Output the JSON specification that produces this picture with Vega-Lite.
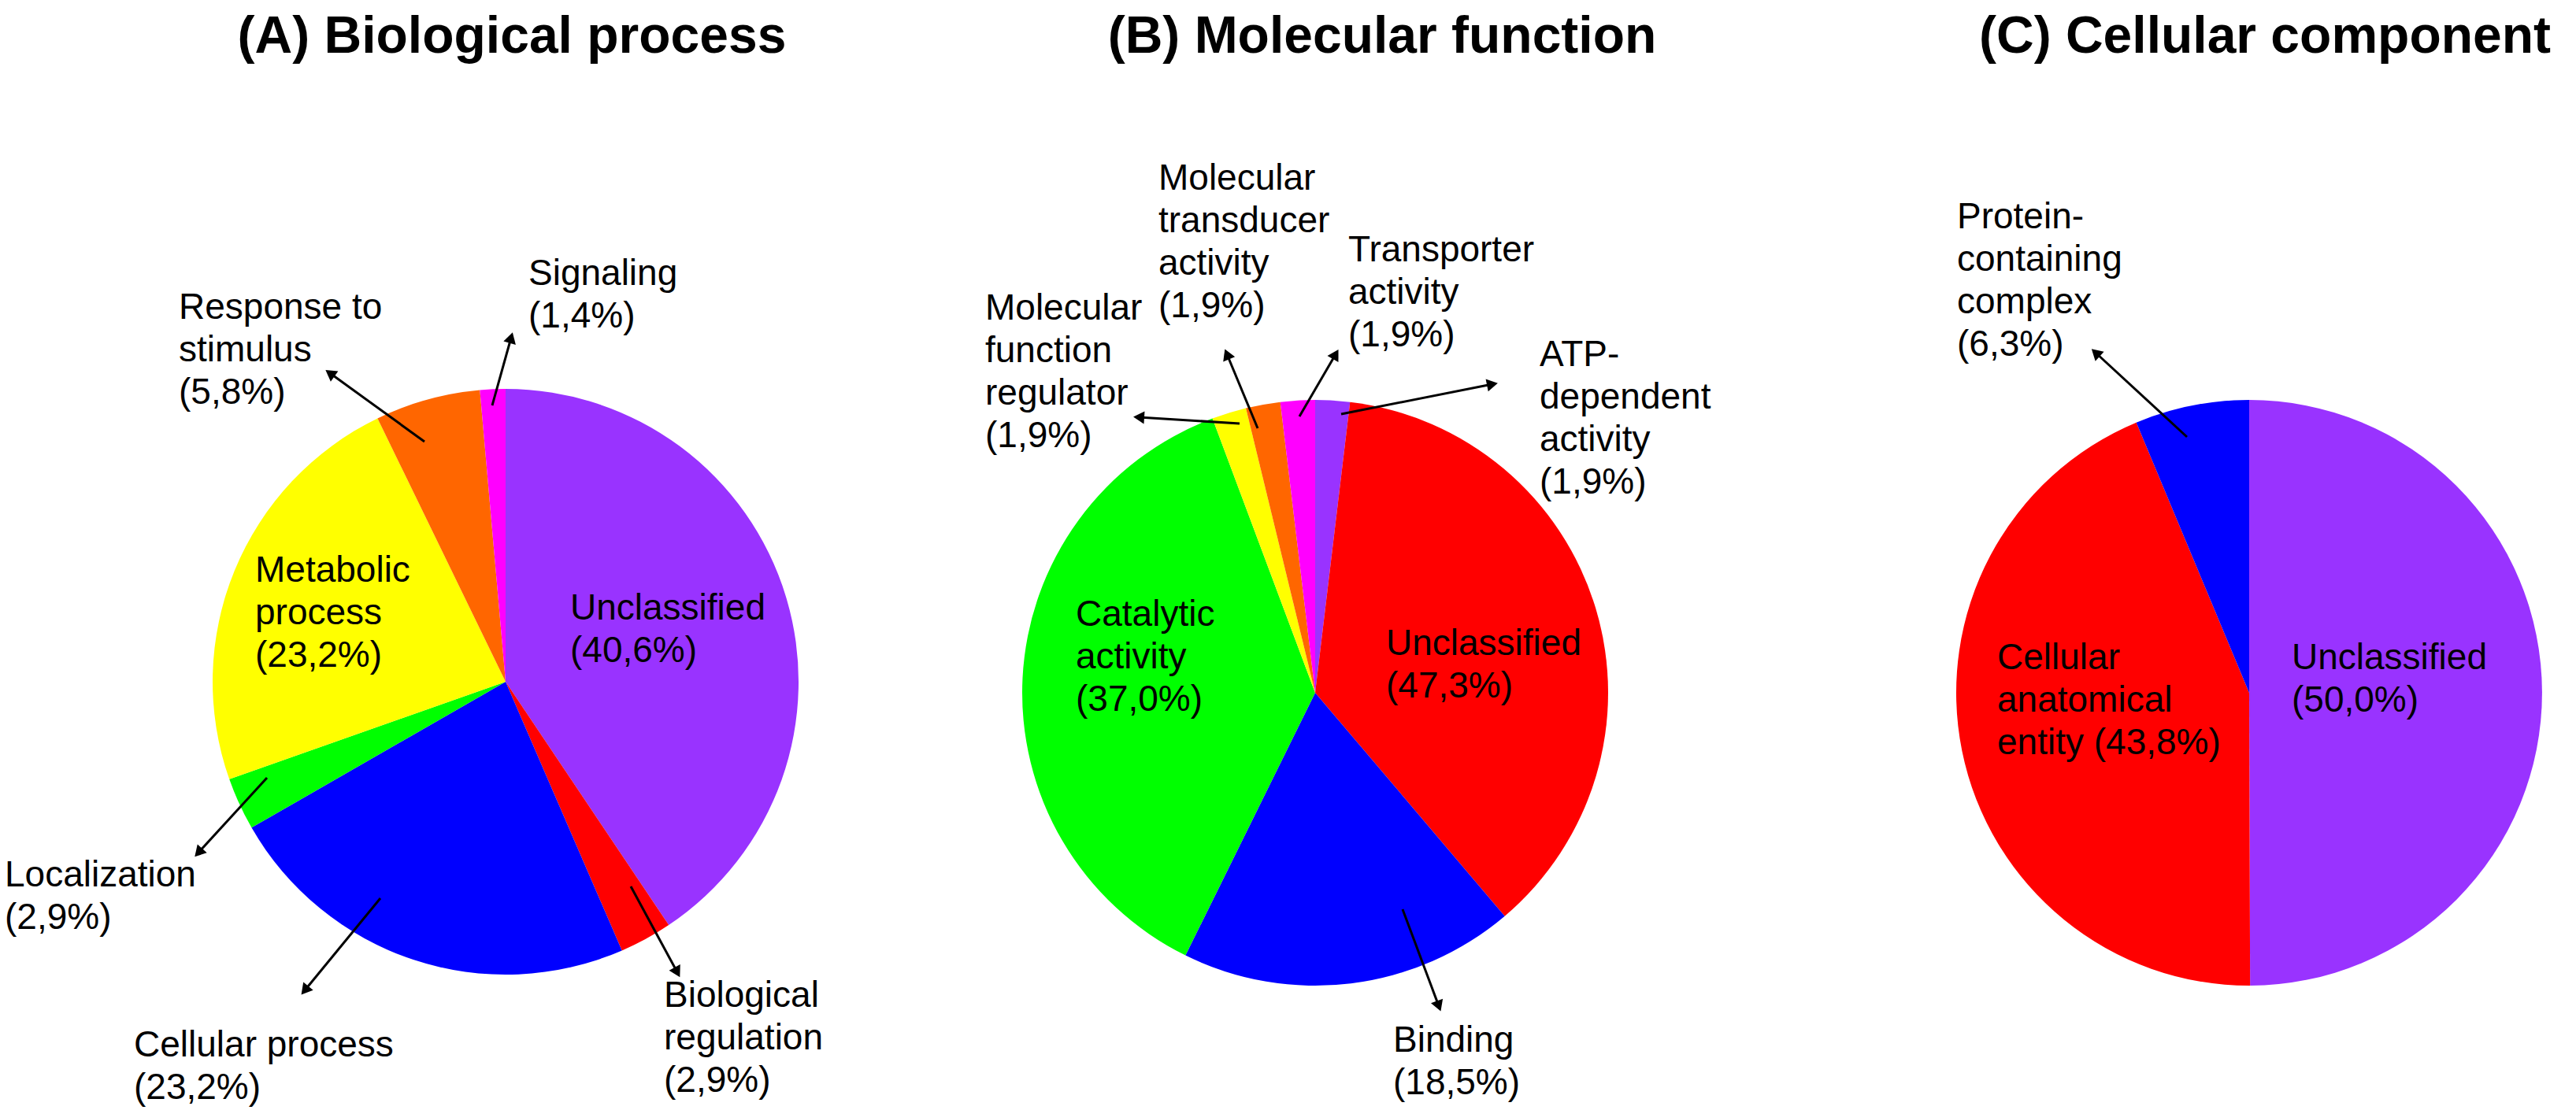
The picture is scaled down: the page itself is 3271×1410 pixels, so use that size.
{
  "$schema": "https://vega.github.io/schema/vega-lite/v6.json",
  "width": 3271,
  "height": 1410,
  "autosize": {"type": "fit", "contains": "padding"},
  "padding": 0,
  "background": "white",
  "config": {"view": {"stroke": null}},
  "datasets": {
    "slices": [
      {"panel": "A", "idx": 1, "category": "Unclassified", "value": 40.6},
      {"panel": "A", "idx": 2, "category": "Biological regulation", "value": 2.9},
      {"panel": "A", "idx": 3, "category": "Cellular process", "value": 23.2},
      {"panel": "A", "idx": 4, "category": "Localization", "value": 2.9},
      {"panel": "A", "idx": 5, "category": "Metabolic process", "value": 23.2},
      {"panel": "A", "idx": 6, "category": "Response to stimulus", "value": 5.8},
      {"panel": "A", "idx": 7, "category": "Signaling", "value": 1.4},
      {"panel": "B", "idx": 1, "category": "ATP-dependent activity", "value": 1.9},
      {"panel": "B", "idx": 2, "category": "Unclassified", "value": 36.9},
      {"panel": "B", "idx": 3, "category": "Binding", "value": 18.5},
      {"panel": "B", "idx": 4, "category": "Catalytic activity", "value": 37.0},
      {"panel": "B", "idx": 5, "category": "Molecular function regulator", "value": 1.9},
      {"panel": "B", "idx": 6, "category": "Molecular transducer activity", "value": 1.9},
      {"panel": "B", "idx": 7, "category": "Transporter activity", "value": 1.9},
      {"panel": "C", "idx": 1, "category": "Unclassified", "value": 50.0},
      {"panel": "C", "idx": 2, "category": "Cellular anatomical entity", "value": 43.8},
      {"panel": "C", "idx": 3, "category": "Protein-containing complex", "value": 6.3}
    ],
    "labels": [
      {"panel": "A", "text": "Signaling\n(1,4%)", "lx": 671, "ly": 362},
      {"panel": "A", "text": "Response to\nstimulus\n(5,8%)", "lx": 227, "ly": 405},
      {"panel": "A", "text": "Metabolic\nprocess\n(23,2%)", "lx": 324, "ly": 739},
      {"panel": "A", "text": "Unclassified\n(40,6%)", "lx": 724, "ly": 787},
      {"panel": "A", "text": "Localization\n(2,9%)", "lx": 6, "ly": 1126},
      {"panel": "A", "text": "Cellular process\n(23,2%)", "lx": 170, "ly": 1342},
      {"panel": "A", "text": "Biological\nregulation\n(2,9%)", "lx": 843, "ly": 1279},
      {"panel": "B", "text": "Molecular\ntransducer\nactivity\n(1,9%)", "lx": 1471, "ly": 241},
      {"panel": "B", "text": "Molecular\nfunction\nregulator\n(1,9%)", "lx": 1251, "ly": 406},
      {"panel": "B", "text": "Transporter\nactivity\n(1,9%)", "lx": 1712, "ly": 332},
      {"panel": "B", "text": "ATP-\ndependent\nactivity\n(1,9%)", "lx": 1955, "ly": 465},
      {"panel": "B", "text": "Catalytic\nactivity\n(37,0%)", "lx": 1366, "ly": 795},
      {"panel": "B", "text": "Unclassified\n(47,3%)", "lx": 1760, "ly": 832},
      {"panel": "B", "text": "Binding\n(18,5%)", "lx": 1769, "ly": 1336},
      {"panel": "C", "text": "Protein-\ncontaining\ncomplex\n(6,3%)", "lx": 2485, "ly": 290},
      {"panel": "C", "text": "Cellular\nanatomical\nentity (43,8%)", "lx": 2536, "ly": 850},
      {"panel": "C", "text": "Unclassified\n(50,0%)", "lx": 2910, "ly": 850}
    ],
    "arrows": [
      {"panel": "A", "target": "Signaling", "x1": 625, "y1": 515, "x2": 649, "y2": 429},
      {"panel": "A", "target": "Response to stimulus", "x1": 539, "y1": 561, "x2": 419, "y2": 474},
      {"panel": "A", "target": "Localization", "x1": 339, "y1": 988, "x2": 252, "y2": 1083},
      {"panel": "A", "target": "Cellular process", "x1": 483, "y1": 1141, "x2": 387, "y2": 1258},
      {"panel": "A", "target": "Biological regulation", "x1": 801, "y1": 1126, "x2": 860, "y2": 1235},
      {"panel": "B", "target": "Molecular function regulator", "x1": 1574, "y1": 538, "x2": 1446, "y2": 530},
      {"panel": "B", "target": "Molecular transducer activity", "x1": 1597, "y1": 544, "x2": 1558, "y2": 450},
      {"panel": "B", "target": "Transporter activity", "x1": 1650, "y1": 529, "x2": 1696, "y2": 450},
      {"panel": "B", "target": "ATP-dependent activity", "x1": 1703, "y1": 526, "x2": 1895, "y2": 488},
      {"panel": "B", "target": "Binding", "x1": 1781, "y1": 1155, "x2": 1827, "y2": 1278},
      {"panel": "C", "target": "Protein-containing complex", "x1": 2777, "y1": 555, "x2": 2661, "y2": 448}
    ],
    "titles": [
      {"text": "(A) Biological process", "tx": 650, "ty": 67},
      {"text": "(B) Molecular function", "tx": 1755, "ty": 67},
      {"text": "(C) Cellular component", "tx": 2876, "ty": 67}
    ]
  },
  "layer": [
    {
      "data": {"name": "slices"},
      "transform": [{"filter": "datum.panel === 'A'"}],
      "mark": {"type": "arc", "radius": 372},
      "encoding": {
        "x": {"datum": 642, "type": "quantitative", "scale": {"domain": [0, 3271], "nice": false, "zero": false}, "axis": null},
        "y": {"datum": 866, "type": "quantitative", "scale": {"domain": [0, 1410], "nice": false, "zero": false, "reverse": true}, "axis": null},
        "theta": {"field": "value", "type": "quantitative", "stack": true},
        "order": {"field": "idx", "type": "quantitative"},
        "color": {"field": "idx", "type": "nominal", "scale": {"domain": [1, 2, 3, 4, 5, 6, 7], "range": ["#9933FF", "#FF0000", "#0000FF", "#00FF00", "#FFFF00", "#FF6600", "#FF00FF"]}, "legend": null}
      }
    },
    {
      "data": {"name": "slices"},
      "transform": [{"filter": "datum.panel === 'B'"}],
      "mark": {"type": "arc", "radius": 372},
      "encoding": {
        "x": {"datum": 1670, "type": "quantitative", "scale": {"domain": [0, 3271], "nice": false, "zero": false}, "axis": null},
        "y": {"datum": 880, "type": "quantitative", "scale": {"domain": [0, 1410], "nice": false, "zero": false, "reverse": true}, "axis": null},
        "theta": {"field": "value", "type": "quantitative", "stack": true},
        "order": {"field": "idx", "type": "quantitative"},
        "color": {"field": "idx", "type": "nominal", "legend": null}
      }
    },
    {
      "data": {"name": "slices"},
      "transform": [{"filter": "datum.panel === 'C'"}],
      "mark": {"type": "arc", "radius": 372},
      "encoding": {
        "x": {"datum": 2856, "type": "quantitative", "scale": {"domain": [0, 3271], "nice": false, "zero": false}, "axis": null},
        "y": {"datum": 880, "type": "quantitative", "scale": {"domain": [0, 1410], "nice": false, "zero": false, "reverse": true}, "axis": null},
        "theta": {"field": "value", "type": "quantitative", "stack": true},
        "order": {"field": "idx", "type": "quantitative"},
        "color": {"field": "idx", "type": "nominal", "legend": null}
      }
    },
    {
      "data": {"name": "arrows"},
      "mark": {"type": "rule", "strokeWidth": 3, "color": "black"},
      "encoding": {
        "x": {"field": "x1", "type": "quantitative", "scale": {"domain": [0, 3271], "nice": false, "zero": false}, "axis": null},
        "y": {"field": "y1", "type": "quantitative", "scale": {"domain": [0, 1410], "nice": false, "zero": false, "reverse": true}, "axis": null},
        "x2": {"field": "x2"},
        "y2": {"field": "y2"}
      }
    },
    {
      "data": {"name": "arrows"},
      "transform": [{"calculate": "atan2(datum.x2 - datum.x1, datum.y1 - datum.y2) * 180 / PI", "as": "ang"}],
      "mark": {"type": "point", "shape": "triangle-up", "filled": true, "size": 260, "color": "black", "opacity": 1, "strokeWidth": 0},
      "encoding": {
        "x": {"field": "x2", "type": "quantitative", "scale": {"domain": [0, 3271], "nice": false, "zero": false}, "axis": null},
        "y": {"field": "y2", "type": "quantitative", "scale": {"domain": [0, 1410], "nice": false, "zero": false, "reverse": true}, "axis": null},
        "angle": {"field": "ang", "type": "quantitative", "scale": null}
      }
    },
    {
      "data": {"name": "labels"},
      "mark": {"type": "text", "align": "left", "baseline": "alphabetic", "fontSize": 46, "lineHeight": 54, "lineBreak": "\n", "font": "Liberation Sans", "color": "black"},
      "encoding": {
        "x": {"field": "lx", "type": "quantitative", "scale": {"domain": [0, 3271], "nice": false, "zero": false}, "axis": null},
        "y": {"field": "ly", "type": "quantitative", "scale": {"domain": [0, 1410], "nice": false, "zero": false, "reverse": true}, "axis": null},
        "text": {"field": "text"}
      }
    },
    {
      "data": {"name": "titles"},
      "mark": {"type": "text", "align": "center", "baseline": "alphabetic", "fontSize": 66, "fontWeight": "bold", "font": "Liberation Sans", "color": "black"},
      "encoding": {
        "x": {"field": "tx", "type": "quantitative", "scale": {"domain": [0, 3271], "nice": false, "zero": false}, "axis": null},
        "y": {"field": "ty", "type": "quantitative", "scale": {"domain": [0, 1410], "nice": false, "zero": false, "reverse": true}, "axis": null},
        "text": {"field": "text"}
      }
    }
  ],
  "resolve": {"scale": {"theta": "independent"}}
}
